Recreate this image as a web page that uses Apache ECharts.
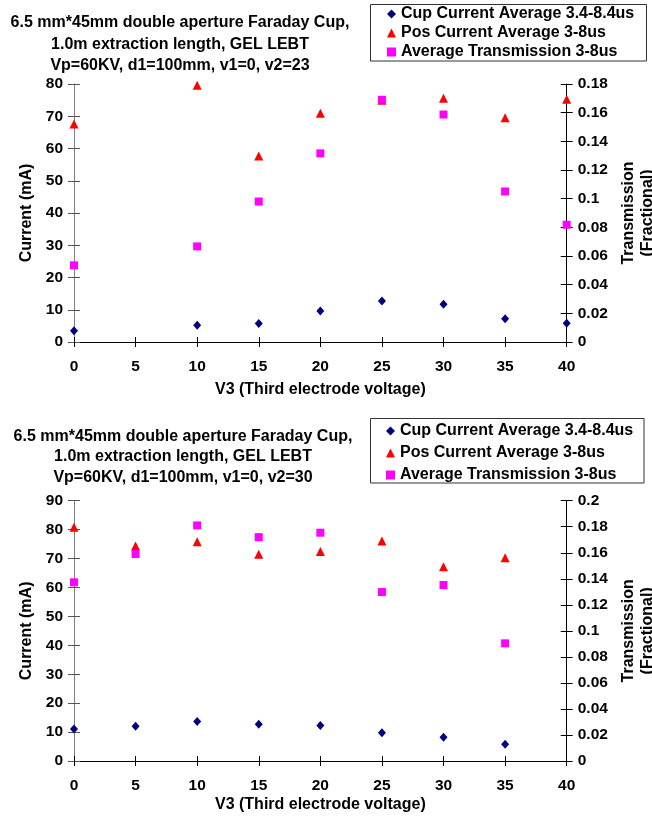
<!DOCTYPE html>
<html>
<head>
<meta charset="utf-8">
<script src="https://cdn.jsdelivr.net/npm/echarts@6/dist/echarts.min.js"></script>
<style>
html,body{margin:0;padding:0;background:#fff;}
#c{width:652px;height:817px;}
</style>
</head>
<body>
<div id="c"></div>
<script>
// ---------- data ----------
var titleTop = '6.5 mm*45mm double aperture Faraday Cup,\n1.0m extraction length, GEL LEBT\nVp=60KV, d1=100mm, v1=0, v2=23';
var titleBottom = '6.5 mm*45mm double aperture Faraday Cup,\n1.0m extraction length, GEL LEBT\nVp=60KV, d1=100mm, v1=0, v2=30';
var seriesNames = ['Cup Current Average 3.4-8.4us', 'Pos Current Average 3-8us', 'Average Transmission 3-8us'];
var xName = 'V3 (Third electrode voltage)';
var yLeftName = 'Current (mA)';
var yRightName = 'Transmission\n(Fractional)';

// top chart (v2=23)
var v3Top = [0, 10, 15, 20, 25, 30, 35, 40];
var cupTop = [3.5, 5.2, 5.7, 9.6, 12.7, 11.7, 7.2, 5.8];
var posTop = [67.6, 79.6, 57.7, 70.9, 75.0, 75.6, 69.5, 75.3];
var transTop = [0.0535, 0.0667, 0.098, 0.1316, 0.169, 0.1587, 0.105, 0.0818];

// bottom chart (v2=30)
var v3Bottom = [0, 5, 10, 15, 20, 25, 30, 35];
var cupBottom = [11.1, 12.0, 13.7, 12.7, 12.3, 9.8, 8.2, 5.8];
var posBottom = [80.8, 74.3, 75.8, 71.5, 72.4, 76.1, 67.2, 70.3];
var transBottom = [0.1373, 0.159, 0.181, 0.172, 0.1754, 0.1298, 0.1352, 0.0904];

// axis ranges
var xRange = {min: 0, max: 40, interval: 5};
var yLeftTop = {min: 0, max: 80, interval: 10};
var yRightTop = {min: 0, max: 0.18, interval: 0.02};
var yLeftBottom = {min: 0, max: 90, interval: 10};
var yRightBottom = {min: 0, max: 0.2, interval: 0.02};

// ---------- styling ----------
var FONT = "'Liberation Sans', Arial, sans-serif";
var bold = {fontFamily: FONT, fontWeight: 'bold', fontSize: 15.5, color: '#000'};
var boldL = {fontFamily: FONT, fontWeight: 'bold', fontSize: 16, color: '#000'};
var colors = ['#000080', '#ff0000', '#ff00ff'];
var symbols = ['diamond', 'triangle', 'rect'];
var sizes = [[8, 9], 9, 8];

function zip(xs, ys) { return xs.map(function (x, i) { return [x, ys[i]]; }); }
function fmt(v) { return String(Math.round(v * 1000) / 1000); }

var grids = [
  {left: 74, right: 85.3, top: 84, height: 258, outerBoundsMode: 'none', containLabel: false},
  {left: 74, right: 85.3, top: 500.7, height: 260.3, outerBoundsMode: 'none', containLabel: false}
];

var xAxes = [], yAxes = [], series = [];
[0, 1].forEach(function (g) {
  var xg = g === 0 ? 40 : 36;
  xAxes.push({
    type: 'value', gridIndex: g, position: 'bottom', min: xRange.min, max: xRange.max, interval: xRange.interval,
    name: xName, nameLocation: 'middle', nameGap: xg, nameTextStyle: boldL,
    axisLine: {onZero: false, lineStyle: {color: '#000', width: 1}},
    axisTick: {show: true, length: 5, lineStyle: {color: '#000'}},
    axisLabel: Object.assign({margin: 17}, bold),
    splitLine: {show: false}
  });
  xAxes.push({
    type: 'value', gridIndex: g, position: 'bottom', min: xRange.min, max: xRange.max, interval: xRange.interval,
    axisLine: {show: false, onZero: false}, axisTick: {show: true, inside: true, length: 5, lineStyle: {color: '#000'}},
    axisLabel: {show: false}, splitLine: {show: false}
  });
  var yl = g === 0 ? yLeftTop : yLeftBottom;
  var yr = g === 0 ? yRightTop : yRightBottom;
  yAxes.push({
    type: 'value', gridIndex: g, position: 'left', min: yl.min, max: yl.max, interval: yl.interval,
    name: yLeftName, nameLocation: 'middle', nameGap: 37, nameRotate: 90, nameTextStyle: boldL,
    axisLine: {show: true, onZero: false, lineStyle: {color: '#808080', width: 1}},
    axisTick: {show: true, length: 6, lineStyle: {color: '#555'}},
    axisLabel: Object.assign({margin: 11}, bold),
    splitLine: {show: false}
  });
  yAxes.push({
    type: 'value', gridIndex: g, position: 'right', min: yr.min, max: yr.max, interval: yr.interval,
    name: yRightName, nameLocation: 'middle', nameGap: 51, nameRotate: 90,
    nameTextStyle: Object.assign({lineHeight: 19}, boldL),
    axisLine: {show: true, onZero: false, lineStyle: {color: '#000', width: 1}},
    axisTick: {show: true, length: 6, lineStyle: {color: '#000'}},
    axisLabel: Object.assign({margin: 11, formatter: fmt}, bold),
    splitLine: {show: false}
  });
  yAxes.push({
    type: 'value', gridIndex: g, position: 'left', min: yl.min, max: yl.max, interval: yl.interval,
    axisLine: {show: false, onZero: false}, axisTick: {show: true, inside: true, length: 6, lineStyle: {color: '#555'}},
    axisLabel: {show: false}, splitLine: {show: false}
  });
  yAxes.push({
    type: 'value', gridIndex: g, position: 'right', min: yr.min, max: yr.max, interval: yr.interval,
    axisLine: {show: false, onZero: false}, axisTick: {show: true, inside: true, length: 6, lineStyle: {color: '#000'}},
    axisLabel: {show: false}, splitLine: {show: false}
  });

  var xs = g === 0 ? v3Top : v3Bottom;
  var sets = g === 0 ? [cupTop, posTop, transTop] : [cupBottom, posBottom, transBottom];
  sets.forEach(function (vals, k) {
    series.push({
      type: 'scatter', name: seriesNames[k],
      xAxisIndex: g * 2, yAxisIndex: g * 4 + (k === 2 ? 1 : 0),
      data: zip(xs, vals),
      symbol: symbols[k], symbolSize: sizes[k],
      itemStyle: {color: colors[k], opacity: 1},
      emphasis: {disabled: true},
      z: 2 + k
    });
  });
});

var legendItems = seriesNames.map(function (n, k) {
  return {name: n, icon: symbols[k], itemStyle: {color: colors[k]}};
});

var option = {
  backgroundColor: '#fff',
  animation: false,
  title: [
    {text: titleTop, left: 175, top: 7, textAlign: 'center',
      textStyle: Object.assign({lineHeight: 21.5}, boldL)},
    {text: titleBottom, left: 178, top: 421, textAlign: 'center',
      textStyle: Object.assign({lineHeight: 20.5}, boldL)}
  ],
  legend: [
    {data: legendItems, orient: 'vertical', left: 387, top: 6, padding: 0,
      itemWidth: 9, itemHeight: 9, itemGap: 3, selectedMode: false,
      textStyle: Object.assign({lineHeight: 15}, boldL)},
    {data: legendItems, orient: 'vertical', left: 386, top: 423, padding: 0,
      itemWidth: 9, itemHeight: 9, itemGap: 6, selectedMode: false,
      textStyle: Object.assign({lineHeight: 15}, boldL)}
  ],
  graphic: [
    {type: 'rect', shape: {x: 370.5, y: 4.5, width: 276, height: 56.5},
      style: {fill: 'none', stroke: '#333', lineWidth: 1}},
    {type: 'rect', shape: {x: 370.5, y: 418.5, width: 273.5, height: 64.5},
      style: {fill: 'none', stroke: '#333', lineWidth: 1}}
  ],
  grid: grids,
  xAxis: xAxes,
  yAxis: yAxes,
  series: series
};

var chart = echarts.init(document.getElementById('c'), null, {renderer: 'canvas'});
chart.setOption(option);
</script>
</body>
</html>
